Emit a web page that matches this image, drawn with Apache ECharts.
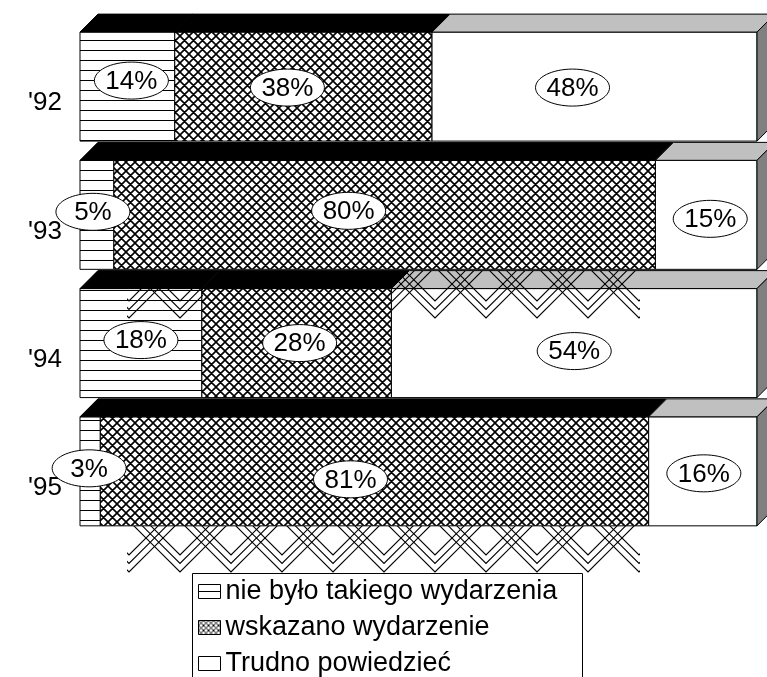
<!DOCTYPE html>
<html><head><meta charset="utf-8">
<script src="https://cdn.jsdelivr.net/npm/echarts@6/dist/echarts.min.js"></script>
<style>html,body{margin:0;padding:0;background:#fff}#c{width:767px;height:677px}</style>
</head><body><div id="c"></div>
<script>
const years = ["'92", "'93", "'94", "'95"];
const seriesNames = ['nie było takiego wydarzenia', 'wskazano wydarzenie', 'Trudno powiedzieć'];
const nieBylo = [14, 5, 18, 3];
const wskazano = [38, 80, 28, 81];
const trudno = [48, 15, 54, 16];

// layout-only nudges of the label ellipses (px), per year, per segment
const labelNudge = [
  [[4, -6], [-16, 1], [-22, 1]],
  [[-4, -3], [-36, -4], [4, 4]],
  [[0, -3], [3, 0], [0, 8]],
  [[-1, -3], [-24, 8], [1, 2]]
];

function makeCanvas(w, h, bg, draw) {
  const c = document.createElement('canvas'); c.width = w; c.height = h;
  const g = c.getContext('2d');
  if (bg) { g.fillStyle = bg; g.fillRect(0, 0, w, h); }
  draw(g); return c;
}
const stripeImg = makeCanvas(10, 10, '#fff', g => { g.fillStyle = '#000'; g.fillRect(0, 0, 10, 1); });
function hatch(s, lw) {
  return makeCanvas(s, s, '#fff', g => {
    g.strokeStyle = '#000'; g.lineWidth = lw; g.beginPath();
    for (const o of [-s, 0, s]) {
      g.moveTo(o - 1, -1); g.lineTo(o + s + 1, s + 1);
      g.moveTo(o + s + 1, -1); g.lineTo(o - 1, s + 1);
    }
    g.stroke();
  });
}
const hatchImg = hatch(9, 1.6);
const hatchSmall = hatch(5, 1);
const zigImg = makeCanvas(51, 127, null, g => {
  g.strokeStyle = '#000'; g.lineWidth = 1.2; g.beginPath();
  for (let k = 0; k < 3; k++) {
    const yb = 64 - 8.5 * k;
    for (const o of [-51, 0, 51]) {
      g.moveTo(27 + o - 70, yb - 70); g.lineTo(27 + o, yb); g.lineTo(27 + o + 70, yb - 70);
    }
  }
  g.stroke();
});

const fronts = [
  { image: stripeImg, repeat: 'repeat' },
  { image: hatchImg, repeat: 'repeat' },
  '#fff'
];
const valueSets = [nieBylo, wskazano, trudno];
const FONT = 'Liberation Sans, Arial, sans-serif';

function buildData(sIdx) {
  return years.map((y, i) => {
    let start = 0;
    for (let s = 0; s < sIdx; s++) start += valueSets[s][i];
    return [start, start + valueSets[sIdx][i], i, valueSets[sIdx][i]];
  });
}

function makeRender(sIdx) {
  return function (params, api) {
    const start = api.value(0), end = api.value(1), cat = api.value(2), val = api.value(3);
    const p0 = api.coord([start, cat]), p1 = api.coord([end, cat]);
    const band = api.size([0, 1])[1];
    const c = p0[1];
    const top = c - 0.554 * band, bot = c + 0.296 * band, D = 0.14 * band;
    const x0 = p0[0], x1 = p1[0];
    const ch = [];
    ch.push({ type: 'rect', shape: { x: x0, y: top, width: x1 - x0, height: bot - top },
      style: { fill: fronts[sIdx], stroke: '#000', lineWidth: 1 } });
    ch.push({ type: 'polygon', shape: { points: [[x0, top], [x1, top], [x1 + D, top - D], [x0 + D, top - D]] },
      style: { fill: sIdx < 2 ? '#000' : '#c0c0c0', stroke: '#000', lineWidth: 1 } });
    if (sIdx === 2) {
      ch.push({ type: 'polygon', shape: { points: [[x1, top], [x1 + D, top - D], [x1 + D, bot - D], [x1, bot]] },
        style: { fill: '#808080', stroke: '#000', lineWidth: 1 } });
    }
    const nd = labelNudge[params.dataIndex][sIdx];
    const lx = (x0 + x1) / 2 + nd[0], ly = (top + bot) / 2 + nd[1];
    ch.push({ type: 'ellipse', shape: { cx: lx, cy: ly, rx: 37, ry: 18.5 }, z2: 20,
      style: { fill: '#fff', stroke: '#000', lineWidth: 1 } });
    ch.push({ type: 'text', x: lx, y: ly + 1, z2: 21,
      style: { text: val + '%', align: 'center', verticalAlign: 'middle', fontSize: 26,
        fontFamily: FONT, fill: '#000' } });
    return { type: 'group', children: ch };
  };
}

const chart = echarts.init(document.getElementById('c'), null, { renderer: 'canvas' });
chart.setOption({
  animation: false,
  backgroundColor: '#fff',
  grid: { left: 80, right: 10, top: 39, bottom: 125 },
  xAxis: { type: 'value', min: 0, max: 100, show: false },
  yAxis: {
    type: 'category', data: years, inverse: true,
    axisLine: { show: false }, axisTick: { show: false }, splitLine: { show: false },
    axisLabel: { fontSize: 26, color: '#000', margin: 18, fontFamily: FONT, padding: [4, 0, 0, 0] }
  },
  legend: {
    orient: 'vertical', left: 192, top: 573, height: 200, padding: [5, 0, 0, 6], itemGap: 9,
    itemWidth: 22, itemHeight: 14, selectedMode: false,
    textStyle: { fontSize: 27, lineHeight: 24, color: '#000', fontFamily: FONT },
    data: [
      { name: seriesNames[0], icon: 'path://M0,0H22V14H0Z M0,7H22', itemStyle: { color: '#fff', borderColor: '#000', borderWidth: 1 } },
      { name: seriesNames[1], icon: 'rect', itemStyle: { color: { image: hatchSmall, repeat: 'repeat' }, borderColor: '#000', borderWidth: 1 } },
      { name: seriesNames[2], icon: 'rect', itemStyle: { color: '#fff', borderColor: '#000', borderWidth: 1 } }
    ]
  },
  graphic: [
    { type: 'rect', z: 1, silent: true, shape: { x: 192.5, y: 573.5, width: 390, height: 130 }, style: { fill: '#fff', stroke: '#000', lineWidth: 1 } },
    { type: 'rect', z: 50, silent: true, shape: { x: 127, y: 526, width: 513, height: 47 }, style: { fill: { image: zigImg, repeat: 'repeat' } } },
    { type: 'rect', z: 50, silent: true, shape: { x: 127, y: 271, width: 76, height: 48 }, style: { fill: { image: zigImg, repeat: 'repeat' } } },
    { type: 'rect', z: 50, silent: true, shape: { x: 392, y: 271, width: 248, height: 48 }, style: { fill: { image: zigImg, repeat: 'repeat' } } }
  ],
  series: [0, 1, 2].map(s => ({
    type: 'custom', name: seriesNames[s], renderItem: makeRender(s),
    encode: { x: [0, 1], y: 2 }, data: buildData(s), itemStyle: { color: '#fff' }
  }))
});
</script></body></html>
